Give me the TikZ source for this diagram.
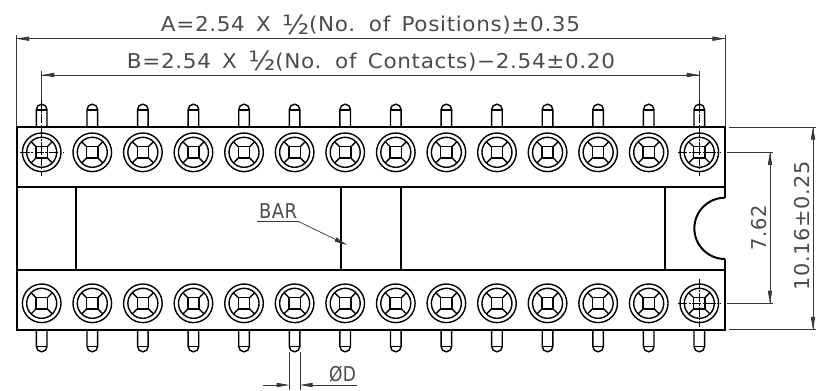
\documentclass[tikz,border=0pt]{standalone}
\usepackage{fontspec}
\usepackage{graphicx}
\setmainfont[LetterSpace=3,WordSpace=1.5]{DejaVu Sans}
\usetikzlibrary{arrows.meta}
\definecolor{dimgray}{gray}{0.22}
\definecolor{txtgray}{gray}{0.3}
\newcommand{\fitw}[2]{\resizebox{\dimexpr #1pt*3/4\relax}{\height}{#2}}
\newcommand{\half}{\raisebox{-0.12em}{\scalebox{1.3}{½}}}
\tikzset{
  x=0.75pt,y=-0.75pt,
  body/.style={line width=1.5pt,black},
  thin part/.style={line width=1.05pt,black},
  dimline/.style={line width=0.55pt,dimgray},
  centerl/.style={line width=0.5pt,black,dash pattern=on 7pt off 1.2pt on 1.2pt off 1.2pt},
  tip/.style={-{Stealth[length=9.5pt,width=3.2pt,inset=0pt]}},
  lbl/.style={inner sep=0pt,text=txtgray,font=\fontsize{15.3pt}{16pt}\selectfont},
}
\newcommand{\socket}[2]{%
  \begin{scope}[shift={(#1,#2)}]
    \draw[thin part] (0,0) circle (19.3);
    \draw[thin part] (0,0) circle (15);
    \draw[thin part] (-5.6,-5.6) rectangle (5.6,5.6);
    \draw[thin part] (-5.6,-5.6)--(-10.6,-10.6) (5.6,-5.6)--(10.6,-10.6) (5.6,5.6)--(10.6,10.6) (-5.6,5.6)--(-10.6,10.6);
  \end{scope}}
\newcommand{\toppin}[1]{%
  \draw[thin part] (#1-5.3,127) -- (#1-5.3,109.5) arc[start angle=180,end angle=360,radius=5.3] -- (#1+5.3,127);
  \draw[thin part] (#1-5.3,110) -- (#1+5.3,110);}
\newcommand{\botpin}[1]{%
  \draw[thin part] (#1-5.3,329) -- (#1-5.3,346.5) arc[start angle=180,end angle=0,radius=5.3] -- (#1+5.3,329);
  \draw[thin part] (#1-5.3,346.5) -- (#1+5.3,346.5);}
\begin{document}
\begin{tikzpicture}
\useasboundingbox (0,0) rectangle (821,390);
\fill[white] (0,0) rectangle (821,390);
% pins and sockets
\foreach \i in {0,...,13}{
  \pgfmathsetmacro{\cx}{41.7+50.585*\i}
  \toppin{\cx}
  \botpin{\cx}
  \socket{\cx}{152.3}
  \socket{\cx}{303.3}
}
% housing
\draw[body] (725,197.7) -- (725,127) -- (16.5,127) -- (16.5,329.5) -- (725,329.5) -- (725,259);
\draw[body] (725,197.7) arc[start angle=270,end angle=90,radius=30.65];
\draw[body] (16.5,186.7) -- (725,186.7);
\draw[body] (16.5,269.5) -- (725,269.5);
\foreach \vx in {76,341,401,665}{\draw[body,line width=1.3pt] (\vx,186.7) -- (\vx,269.5);}
% centre lines
\coordinate (c1) at (41.7,152.3);
\coordinate (c2) at (699.3,152.3);
\coordinate (c3) at (699.3,303.3);
\foreach \c in {c1,c2,c3}{
  \draw[centerl] ([xshift=-16pt]\c) -- ([xshift=16pt]\c);
}
\draw[centerl] (41.7,100) -- (41.7,176);
\draw[centerl] (699.3,100) -- (699.3,176);
\draw[centerl] (699.3,279) -- (699.3,327);
% dimension A
\coordinate (a1) at (16.5,38.7);
\coordinate (a2) at (725,38.7);
\coordinate (a1b) at (16.5,127);
\coordinate (a2b) at (725,127);
\draw[dimline] ([yshift=3pt]a1) -- (a1b);
\draw[dimline] ([yshift=3pt]a2) -- (a2b);
\draw[dimline,tip] (a2) -- (a1);
\draw[dimline,tip] (a1) -- (a2);
\node[lbl,anchor=base] (tA) at (370.5,31.7) {\fitw{419}{A=2.54 X \half(No. of Positions)±0.35}};
% dimension B
\coordinate (b1) at (41.7,75);
\coordinate (b2) at (699.3,75);
\coordinate (b1b) at (41.7,100);
\coordinate (b2b) at (699.3,100);
\draw[dimline] ([yshift=3pt]b1) -- (b1b);
\draw[dimline] ([yshift=3pt]b2) -- (b2b);
\draw[dimline,tip] (b2) -- (b1);
\draw[dimline,tip] (b1) -- (b2);
\node[lbl,anchor=base] (tB) at (371,68) {\fitw{488}{B=2.54 X \half(No. of Contacts)−2.54±0.20}};
% right dimensions
\coordinate (r1) at (729,127);
\coordinate (r2) at (816,127);
\coordinate (r3) at (729,329.5);
\coordinate (r4) at (816,329.5);
\coordinate (s1) at (727,152.3);
\coordinate (s2) at (773,152.3);
\coordinate (s3) at (727,303.3);
\coordinate (s4) at (773,303.3);
\draw[dimline] (r1) -- (r2);
\draw[dimline] (r3) -- (r4);
\draw[dimline] (s1) -- (s2);
\draw[dimline] (s3) -- (s4);
\coordinate (d1) at (770,152.3);
\coordinate (d2) at (770,303.3);
\draw[dimline,tip] (d2) -- (d1);
\draw[dimline,tip] (d1) -- (d2);
\coordinate (e1) at (813,127);
\coordinate (e2) at (813,329.5);
\draw[dimline,tip] (e2) -- (e1);
\draw[dimline,tip] (e1) -- (e2);
\node[lbl,rotate=90] (t762) at (759.5,227.5) {\fitw{45}{7.62}};
\node[lbl,rotate=90] (t1016) at (802.5,226) {\fitw{129}{10.16±0.25}};
% BAR
\node[lbl,anchor=south] (tBar) at (278,219) {\fitw{38}{BAR}};
\coordinate (bar1) at (257,221.5);
\coordinate (bar2) at (298.5,221.5);
\coordinate (bar3) at (347,245);
\draw[dimline] (bar1) -- (bar2);
\draw[dimline,tip] (bar2) -- (bar3);
% phi D
\coordinate (p1) at (289.4,352);
\coordinate (p2) at (289.4,390);
\coordinate (p3) at (300,352);
\coordinate (p4) at (300,390);
\draw[dimline] (p1) -- (p2);
\draw[dimline] (p3) -- (p4);
\coordinate (q1) at (263,385);
\coordinate (q2) at (357,385);
\draw[dimline,tip] (q1) -- (p1 |- q1);
\draw[dimline,tip] (q2) -- (p3 |- q2);
\node[lbl,anchor=south] (tD) at (342.5,382.5) {\fitw{27}{ØD}};
\end{tikzpicture}
\end{document}
